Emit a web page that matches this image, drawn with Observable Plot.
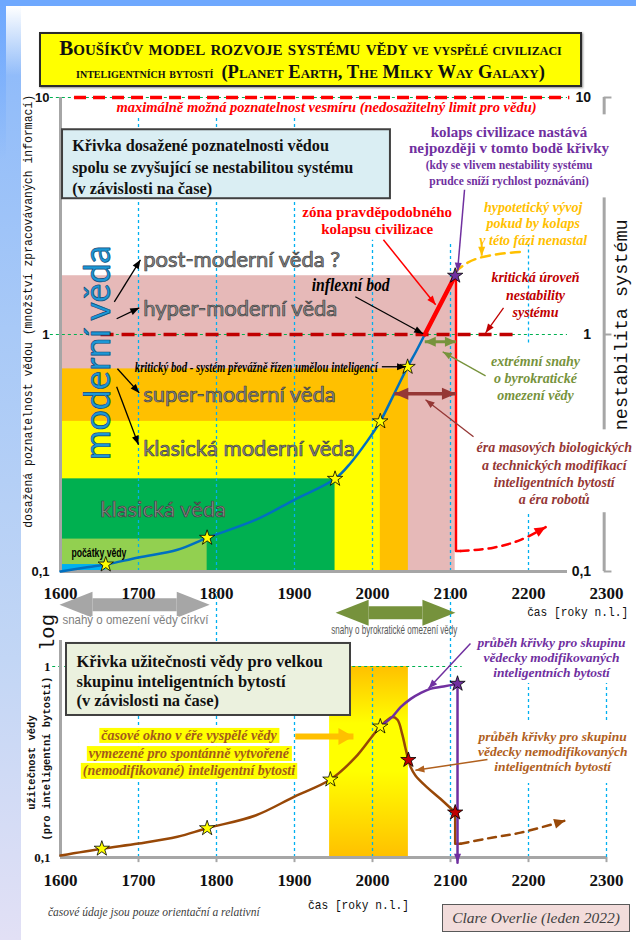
<!DOCTYPE html>
<html>
<head>
<meta charset="utf-8">
<script src="https://cdn.jsdelivr.net/npm/d3@7"></script>
<script src="https://cdn.jsdelivr.net/npm/@observablehq/plot@0.6"></script>
<style>
  html, body { margin: 0; padding: 0; background: #fff; }
  #page { position: relative; width: 636px; height: 940px; overflow: hidden; background: #fff; }
  #edgeLeft { position: absolute; left: 0; top: 0; width: 21px; height: 940px;
    background: linear-gradient(to bottom, #8AB8FA 0%, #A8C9F7 35%, #C2D6F5 70%, #E2E0F5 100%); }
  #edgeFade { position: absolute; left: 6px; top: 6px; width: 15px; height: 70px;
    background: linear-gradient(to bottom, #fff 0%, rgba(255,255,255,0) 100%); }
  #edgeLine { position: absolute; left: 0; top: 0; width: 6px; height: 160px;
    background: linear-gradient(to bottom, #6EA8FE 0%, rgba(110,168,254,0) 100%); }
  #edgeTop { position: absolute; left: 0; top: 0; width: 636px; height: 6px; background: #6EA8FE; }
  #title { position: absolute; left: 39px; top: 32px; width: 543px; height: 55px; box-sizing: border-box;
    border: 2px solid #2b2b2b; background: #FFFF00; box-shadow: 1px 1px 2px rgba(0,0,0,.45);
    font-family: "Liberation Serif", "Times New Roman", serif; font-weight: bold; font-variant: small-caps;
    text-align: center; color: #111; line-height: 23px; padding-top: 3px; white-space: nowrap; }
  #title .big { font-size: 21px; }
  #title .small { font-size: 16.5px; }
  #title .big2 { font-size: 18.5px; }
  #title .small2 { font-size: 14.5px; }
  #top, #bottom { position: absolute; left: 0; width: 636px; }
  #top { top: 0; }
  #bottom { top: 590px; }
  #note { position: absolute; left: 48px; top: 906px; font-family: "Liberation Serif", "Times New Roman", serif; font-style: italic;
    font-size: 11.5px; color: #404040; white-space: nowrap; }
  #author { position: absolute; left: 442px; top: 904px; width: 188px; height: 28px; box-sizing: border-box;
    background: #F2DCDB; border: 1.5px solid #595959; font-family: "Liberation Serif", "Times New Roman", serif; font-style: italic;
    font-size: 15.5px; color: #404040; text-align: center; line-height: 25px; }
</style>
</head>
<body>
<div id="page">
  <div id="edgeLeft"></div>
  <div id="edgeFade"></div>
  <div id="edgeLine"></div>
  <div id="edgeTop"></div>
  <div id="top"></div>
  <div id="bottom"></div>
  <div id="title"><span class="big">Boušíkův model rozvoje systému vědy</span> <span class="small">ve vyspělé civilizaci</span><br><span class="small2">inteligentních bytostí</span>&nbsp; <span class="big2">(Planet Earth, The Milky Way Galaxy)</span></div>
  <div id="note">časové údaje jsou pouze orientační a relativní</div>
  <div id="author">Clare Overlie (leden 2022)</div>
</div>
<script>
// ---------------- data ----------------
const xTickYears = [1600, 1700, 1800, 1900, 2000, 2100, 2200, 2300];
const topTickValues = [10, 1, 0.1];
const topTickLabels = ["10", "1", "0,1"];
const bottomTickValues = [1, 0.1];
const bottomTickLabels = ["1", "0,1"];

// coloured eras of the knowledge chart
const bandNames = ["zóna nestability", "super-moderní", "klasická moderní", "klasická", "počátky", "zárodky"];
const bandEndYears = [2106, 2046, 2010, 1952, 1788, 1658];
const bandTopValues = [1.77, 0.716, 0.43, 0.246, 0.137, 0.107];
const bandColors = ["#E6B9B8", "#FFC000", "#FFFF00", "#00B050", "#92D050", "#00B0F0"];

// knowledge curve (blue), then collapse zone (red)
const knowledgeYears = [1600, 1630, 1658, 1700, 1750, 1788, 1850, 1900, 1952, 1972, 1993, 2010, 2027, 2045, 2056, 2067];
const knowledgeValues = [0.1, 0.1036, 0.107, 0.1146, 0.1235, 0.1387, 0.165, 0.2007, 0.246, 0.287, 0.354, 0.43, 0.555, 0.73, 0.85, 1.0];
const collapseYears = [2067, 2106];
const collapseValues = [1.0, 1.77];
const dropYears = [2107, 2107, 2113];
const dropValues = [1.77, 0.122, 0.122];
const fallYears = [2113, 2155, 2190, 2222];
const fallValues = [0.122, 0.126, 0.136, 0.154];
const hypoYears = [2106, 2122, 2138, 2164, 2190];
const hypoValues = [1.84, 2.01, 2.11, 2.19, 2.23];
const topStarYears = [1658, 1788, 1952, 2010, 2045, 2106];
const topStarValues = [0.107, 0.1387, 0.246, 0.43, 0.73, 1.77];
const topStarFills = ["#FFFF00", "#FFFF00", "#FFFF00", "#FFFF00", "#FFFF00", "#7030A0"];

// usefulness curves
const usefulYears = [1600, 1653, 1700, 1750, 1788, 1850, 1900, 1946, 1978, 2010, 2025, 2032, 2038, 2042, 2046, 2049, 2055, 2070, 2087, 2106];
const usefulValues = [0.1024, 0.1112, 0.1183, 0.1283, 0.1423, 0.166, 0.2085, 0.2559, 0.334, 0.485, 0.543, 0.526, 0.444, 0.378, 0.324, 0.297, 0.269, 0.233, 0.203, 0.172];
const usefulDropYears = [2106, 2106, 2113];
const usefulDropValues = [0.172, 0.118, 0.118];
const usefulFallYears = [2113, 2147, 2190, 2247];
const usefulFallValues = [0.118, 0.1257, 0.135, 0.156];
const modifiedYears = [2010, 2025, 2036, 2049, 2061.5, 2074, 2091, 2109];
const modifiedValues = [0.485, 0.543, 0.612, 0.677, 0.725, 0.764, 0.786, 0.812];
const modifiedDropYears = [2109, 2109];
const modifiedDropValues = [0.812, 0.094];
const bottomStarYears = [1653, 1788, 1946, 2010, 2046, 2106, 2109];
const bottomStarValues = [0.1112, 0.1423, 0.2559, 0.485, 0.324, 0.172, 0.812];
const bottomStarFills = ["#FFFF00", "#FFFF00", "#FFFF00", "#FFFF00", "#C00000", "#C00000", "#7030A0"];
const windowYears = [1945, 2046];

// gridline segments
const topGridYears = [1700, 1800, 1900, 2000, 2100, 2200, 2200];
const topGridLow = [0.1, 0.1, 0.1, 0.1, 0.1, 0.1, 0.92];
const topGridHigh = [8.4, 8.4, 8.4, 2.5, 2.4, 0.177, 2.4];
const bottomGridYears = [1700, 1800, 1900, 2000, 2100, 2200, 2200, 2300, 2300];
const bottomGridLow = [0.1, 0.1, 0.1, 0.1, 0.1, 0.1, 0.521, 0.1, 0.521];
const bottomGridHigh = [0.55, 2.44, 0.55, 1, 2.44, 0.244, 0.815, 0.244, 0.815];
const rightAxisLow = [8.45, 0.396, 0.1];
const rightAxisHigh = [10, 3.77, 0.177];

// band labels
const eraLabels = ["post-moderní věda ?", "hyper-moderní věda", "super-moderní věda", "klasická moderní věda"];
const eraLabelValues = [2.07, 1.284, 0.557, 0.3295];
const windowLines = ["časové okno v éře vyspělé vědy", "vymezené pro spontánně vytvořené", "(nemodifikované) inteligentní bytosti"];
const windowLineValues = [0.4355, 0.35, 0.2856];

// ---------------- helpers ----------------
const ns = "http://www.w3.org/2000/svg";
const SERIF = "'Liberation Serif', 'Times New Roman', serif";
const MONO = "'Liberation Mono', 'Courier New', monospace";
const SANS = "'Liberation Sans', Arial, sans-serif";
const LATO = "Lato, sans-serif";
const bi = {fontFamily: SERIF, fontWeight: "bold", fontStyle: "italic"};
const zip = (xs, ys) => xs.map((x, i) => ({x, y: ys[i]}));
const seg = (xs, lo, hi) => xs.map((x, i) => ({x, lo: lo[i], hi: hi[i]}));

function headMarker(len, wid, base) {
  return (color) => {
    const m = document.createElementNS(ns, "marker");
    m.setAttribute("viewBox", `0 ${-wid / 2} ${len} ${wid}`);
    m.setAttribute("markerWidth", len);
    m.setAttribute("markerHeight", wid);
    m.setAttribute("markerUnits", "userSpaceOnUse");
    m.setAttribute("orient", "auto-start-reverse");
    m.setAttribute("refX", base ? 0 : len);
    m.setAttribute("refY", 0);
    m.setAttribute("overflow", "visible");
    const p = document.createElementNS(ns, "path");
    p.setAttribute("d", `M0,${-wid / 2}L${len},0L0,${wid / 2}Z`);
    p.setAttribute("fill", color);
    p.setAttribute("stroke", "none");
    m.appendChild(p);
    return m;
  };
}
function pointers(rows, marker) {
  return Plot.link(rows, {
    x1: d => d.from[0], y1: d => d.from[1], x2: d => d.to[0], y2: d => d.to[1],
    stroke: "color", strokeWidth: "w", markerEnd: marker
  });
}
function txt(s, opts) { return Plot.text([s], {text: d => d, ...opts}); }

// ---------------- top chart ----------------
function buildTop(M) {
  const bands = bandNames.map((n, i) => ({name: n, end: bandEndYears[i], top: bandTopValues[i], color: bandColors[i]}));
  const stars = topStarYears.map((x, i) => ({x, y: topStarValues[i], fill: topStarFills[i]}));
  const topPointers = [
    {from: [2118, 4.08], to: [2109, 1.84], color: "#7030A0", w: 1.5},
    {from: [2014, 2.51], to: [2081, 1.335], color: "#FF0000", w: 1.5},
    {from: [1978, 1.443], to: [2065, 1.007], color: "#000000", w: 1.3},
    {from: [2012, 0.731], to: [2043, 0.731], color: "#000000", w: 1.3},
    {from: [2168, 1.296], to: [2145, 1.017], color: "#C00000", w: 1.3},
    {from: [2145, 0.669], to: [2090, 0.845], color: "#77933C", w: 1.3},
    {from: [2129.5, 0.37], to: [2068, 0.53], color: "#953735", w: 1.3},
    {from: [2140, 2.44], to: [2140, 2.15], color: "#FFC000", w: 2},
    {from: [1669, 1.374], to: [1702.5, 2.066], color: "#000000", w: 1.3},
    {from: [1672, 1.165], to: [1701, 1.296], color: "#000000", w: 1.3},
    {from: [1673, 0.717], to: [1701, 0.567], color: "#000000", w: 1.3},
    {from: [1672, 0.6015], to: [1700, 0.3428], color: "#000000", w: 1.3}
  ];
  const eraOutline = {fontFamily: LATO, fontSize: 22, fill: "#8C8C8C", stroke: "#3F3F3F", strokeWidth: 0.7, paintOrder: "normal"};
  return Plot.plot({
    width: 636, height: 640, marginLeft: 60, marginRight: 30, marginTop: 97, marginBottom: 69,
    x: {domain: [1600, 2300], axis: null},
    y: {type: "log", domain: [0.1, 10], axis: null},
    color: {type: "identity"},
    style: {background: "transparent", overflow: "visible"},
    marks: [
      Plot.rect(bands, {x1: 1600, x2: "end", y1: 0.1, y2: "top", fill: "color"}),
      Plot.ruleX(seg(topGridYears, topGridLow, topGridHigh), {x: "x", y1: "lo", y2: "hi", stroke: "#00B0F0", strokeWidth: 1.3, strokeDasharray: "3,3"}),
      Plot.ruleY([10, 1], {x1: 1587, x2: 2250, stroke: "#00B050", strokeWidth: 1, strokeDasharray: "3,3"}),
      Plot.ruleY([10], {x1: 1618, x2: 2253, stroke: "#FF0000", strokeWidth: 3.5, strokeDasharray: "12,7"}),
      Plot.ruleY([1], {x1: 1652, x2: 2185, stroke: "#C00000", strokeWidth: 3.5, strokeDasharray: "13,8"}),
      Plot.ruleX([1600], {y1: 0.1, y2: 10, stroke: "#A6A6A6", strokeWidth: 3}),
      Plot.ruleY([0.1], {x1: 1600, x2: 2250, stroke: "#A6A6A6", strokeWidth: 3}),
      Plot.ruleX(seg([2297, 2297, 2297], rightAxisLow, rightAxisHigh), {x: "x", y1: "lo", y2: "hi", stroke: "#A6A6A6", strokeWidth: 3}),
      Plot.ruleY(topTickValues, {x1: 2297, x2: 2307, stroke: "#A6A6A6", strokeWidth: 2}),
      // title box of the chart
      Plot.rect([0], {x1: 1602.6, x2: 2023, y1: 3.74, y2: 7.31, fill: "#DAEEF3", stroke: "#404040", strokeWidth: 2}),
      txt("Křivka dosažené poznatelnosti vědou\nspolu se zvyšující se nestabilitou systému\n(v závislosti na čase)",
        {x: 1615, y: 5.15, textAnchor: "start", fontFamily: SERIF, fontWeight: "bold", fontSize: 16.2, lineHeight: 1.3, fill: "#111"}),
      // curves
      Plot.line(zip(hypoYears, hypoValues), {x: "x", y: "y", curve: "catmull-rom", stroke: "#FFC000", strokeWidth: 2.5, strokeDasharray: "9,6"}),
      Plot.line(zip(knowledgeYears, knowledgeValues), {x: "x", y: "y", curve: "catmull-rom", stroke: "#0070C0", strokeWidth: 2.5}),
      Plot.line(zip(collapseYears, collapseValues), {x: "x", y: "y", stroke: "#FF0000", strokeWidth: 4.5}),
      Plot.line(zip(dropYears, dropValues), {x: "x", y: "y", stroke: "#FF0000", strokeWidth: 2.5}),
      Plot.line(zip(fallYears, fallValues), {x: "x", y: "y", curve: "catmull-rom", stroke: "#FF0000", strokeWidth: 2.5, strokeDasharray: "8,6", markerEnd: M.mid}),
      // double arrows
      Plot.link([0], {x1: 2067, x2: 2107, y1: 0.932, y2: 0.932, stroke: "#77933C", strokeWidth: 3, markerStart: M.mid, markerEnd: M.mid}),
      Plot.link([0], {x1: 2028, x2: 2107, y1: 0.562, y2: 0.562, stroke: "#953735", strokeWidth: 3.5, markerStart: M.big, markerEnd: M.big}),
      Plot.link([0], {x1: 1641, x2: 1749, y1: 0.0724, y2: 0.0724, stroke: "#A6A6A6", strokeWidth: 13, markerStart: M.huge, markerEnd: M.huge}),
      Plot.link([0], {x1: 1995, x2: 2064, y1: 0.067, y2: 0.067, stroke: "#76923C", strokeWidth: 13, markerStart: M.huge, markerEnd: M.huge}),
      Plot.dot(stars, {x: "x", y: "y", symbol: "star", r: 4.8, fill: "fill", stroke: "#000", strokeWidth: 0.8}),
      // era labels
      Plot.text(eraLabels, {x: 1706, y: (d, i) => eraLabelValues[i], text: d => d, textAnchor: "start", ...eraOutline}),
      txt("klasická věda", {x: 1651, y: 0.182, textAnchor: "start", ...eraOutline}),
      txt("počátky vědy", {x: 1614, y: 0.12, textAnchor: "start", fontFamily: SANS, fontWeight: "bold", fontSize: 13, fill: "#000"}),
      txt("moderní věda", {x: 1648.7, y: 0.837, rotate: -90, fontFamily: LATO, fontSize: 36, fill: "#1C97D6", stroke: "#0D4A78", strokeWidth: 0.7, paintOrder: "normal"}),
      // annotations
      txt("maximálně možná poznatelnost vesmíru (nedosažitelný limit pro vědu)", {x: 1941, y: 9.05, ...bi, fontSize: 14.5, fill: "#FF0000"}),
      txt("kolaps civilizace nastává\nnejpozději v tomto bodě křivky", {x: 2175, y: 6.63, fontFamily: SERIF, fontWeight: "bold", fontSize: 15, lineHeight: 1.07, fill: "#7030A0"}),
      txt("(kdy se vlivem nestability systému\nprudce sníží rychlost poznávání)", {x: 2175, y: 4.86, fontFamily: SERIF, fontWeight: "bold", fontSize: 11.5, lineHeight: 1.39, fill: "#7030A0"}),
      txt("zóna pravděpodobného\nkolapsu civilizace", {x: 2006, y: 3.03, fontFamily: SERIF, fontWeight: "bold", fontSize: 15, lineHeight: 1.13, fill: "#FF0000"}),
      txt("hypotetický vývoj\npokud by kolaps\nv této fázi nenastal", {x: 2206, y: 2.96, ...bi, fontSize: 14, lineHeight: 1.18, fill: "#FFC000"}),
      txt("kritická úroveň\nnestability\nsystému", {x: 2209, y: 1.48, ...bi, fontSize: 14, lineHeight: 1.23, fill: "#C00000"}),
      txt("extrémní snahy\no byrokratické\nomezení vědy", {x: 2209, y: 0.657, ...bi, fontSize: 14, lineHeight: 1.19, fill: "#77933C"}),
      txt("éra masových biologických\na technických modifikací\ninteligentních bytostí\na éra robotů", {x: 2233, y: 0.261, ...bi, fontSize: 14, lineHeight: 1.24, fill: "#953735"}),
      txt("inflexní bod", {x: 1972, y: 1.62, ...bi, fontSize: 18, fill: "#000"}),
      txt("kritický bod - systém převážně řízen umělou inteligencí", {x: 1851, y: 0.731, ...bi, fontSize: 15.5, fill: "#000"}),
      pointers(topPointers, M.thin),
      // axes text
      Plot.text(topTickValues, {x: 1600, y: d => d, text: (d, i) => topTickLabels[i], dx: -11, textAnchor: "end", fontFamily: SANS, fontWeight: "bold", fontSize: 13, fill: "#111"}),
      Plot.text(topTickValues, {x: 2297, y: d => d, text: (d, i) => topTickLabels[i], dx: -13, textAnchor: "end", fontFamily: SANS, fontWeight: "bold", fontSize: 14, fill: "#111"}),
      Plot.text(xTickYears, {x: d => d, y: 0.1, text: d => String(d), dy: 22, fontFamily: SERIF, fontWeight: "bold", fontSize: 17, fill: "#111"}),
      txt("čas [roky n.l.]", {x: 2263, y: 0.0676, fontFamily: MONO, fontSize: 12, fill: "#111"}),
      txt("dosažená poznatelnost vědou (množství zpracovávaných informací)", {x: 1558, y: 1.253, rotate: -90, fontFamily: MONO, fontSize: 13, fill: "#111"}),
      txt("nestabilita systému", {x: 2319, y: 1.099, rotate: -90, fontFamily: MONO, fontSize: 18.5, fill: "#111"}),
      txt("snahy o omezení vědy církví", {x: 1696, y: 0.0626, fontFamily: SANS, fontSize: 13, fill: "#7F7F7F", stroke: "#fff", strokeWidth: 2, paintOrder: "stroke"}),
      txt("snahy o byrokratické omezení vědy", {x: 2028, y: 0.0568, fontFamily: SANS, fontSize: 13, fill: "#595959", stroke: "#fff", strokeWidth: 2, paintOrder: "stroke"})
    ]
  });
}

// ---------------- bottom chart ----------------
function buildBottom(M) {
  const stars = bottomStarYears.map((x, i) => ({x, y: bottomStarValues[i], fill: bottomStarFills[i]}));
  const bottomPointers = [
    {from: [2125.6, 1.32], to: [2071.8, 0.767], color: "#7030A0", w: 1.5},
    {from: [2147.4, 0.326], to: [2055, 0.286], color: "#B0601E", w: 1.5}
  ];
  return Plot.plot({
    width: 636, height: 350, marginLeft: 60, marginRight: 30, marginTop: 76, marginBottom: 83,
    x: {domain: [1600, 2300], axis: null},
    y: {type: "log", domain: [0.1, 1], axis: null},
    color: {type: "identity"},
    style: {background: "transparent", overflow: "visible"},
    marks: [
      Plot.rect([0], {x1: windowYears[0], x2: windowYears[1], y1: 0.1, y2: 1, fill: "url(#oknoGrad)"}),
      Plot.ruleX(seg(bottomGridYears, bottomGridLow, bottomGridHigh), {x: "x", y1: "lo", y2: "hi", stroke: "#00B0F0", strokeWidth: 1.3, strokeDasharray: "3,3"}),
      Plot.ruleY([1], {x1: 1590, x2: 2115, stroke: "#00B050", strokeWidth: 1, strokeDasharray: "3,3"}),
      Plot.ruleX([1600], {y1: 0.1, y2: 1.368, stroke: "#A6A6A6", strokeWidth: 3}),
      Plot.ruleY([0.1], {x1: 1600, x2: 2300, stroke: "#A6A6A6", strokeWidth: 3}),
      Plot.ruleX(xTickYears.slice(1), {y1: 0.1, y2: 0.094, stroke: "#A6A6A6", strokeWidth: 2}),
      Plot.rect([0], {x1: 1607.7, x2: 1971.8, y1: 0.554, y2: 1.32, fill: "#EBF1DE", stroke: "#404040", strokeWidth: 2}),
      txt("Křivka užitečnosti vědy pro velkou\nskupinu inteligentních bytostí\n(v závislosti na čase)",
        {x: 1620.5, y: 0.845, textAnchor: "start", fontFamily: SERIF, fontWeight: "bold", fontSize: 16.5, lineHeight: 1.18, fill: "#111"}),
      Plot.text(windowLines, {x: 1764.7, y: (d, i) => windowLineValues[i], text: d => d, ...bi, fontSize: 14, fill: "#A45A1B"}),
      Plot.link([0], {x1: 1901, x2: 1975.6, y1: 0.43, y2: 0.43, stroke: "#FFC000", strokeWidth: 6, markerEnd: M.orange}),
      Plot.line(zip(usefulYears, usefulValues), {x: "x", y: "y", curve: "catmull-rom", stroke: "#984807", strokeWidth: 2.5}),
      Plot.line(zip(usefulDropYears, usefulDropValues), {x: "x", y: "y", stroke: "#984807", strokeWidth: 2.5}),
      Plot.line(zip(usefulFallYears, usefulFallValues), {x: "x", y: "y", curve: "catmull-rom", stroke: "#984807", strokeWidth: 2.5, strokeDasharray: "8,6", markerEnd: M.mid}),
      Plot.line(zip(modifiedYears, modifiedValues), {x: "x", y: "y", curve: "catmull-rom", stroke: "#7030A0", strokeWidth: 2.5}),
      Plot.line(zip(modifiedDropYears, modifiedDropValues), {x: "x", y: "y", stroke: "#7030A0", strokeWidth: 2.5, markerEnd: M.thin}),
      Plot.dot(stars, {x: "x", y: "y", symbol: "star", r: 4.8, fill: "fill", stroke: "#000", strokeWidth: 0.8}),
      txt("průběh křivky pro skupinu\nvědecky modifikovaných\ninteligentních bytostí", {x: 2229.5, y: 1.115, ...bi, fontSize: 13.5, lineHeight: 1.11, fill: "#7030A0"}),
      txt("průběh křivky pro skupinu\nvědecky nemodifikovaných\ninteligentních bytostí", {x: 2231, y: 0.359, ...bi, fontSize: 13.5, lineHeight: 1.11, fill: "#B0601E"}),
      pointers(bottomPointers, M.thin),
      Plot.text(bottomTickValues, {x: 1600, y: d => d, text: (d, i) => bottomTickLabels[i], dx: -10, textAnchor: "end", fontFamily: SERIF, fontWeight: "bold", fontSize: 13, fill: "#111"}),
      Plot.text(xTickYears, {x: d => d, y: 0.1, text: d => String(d), dy: 23, fontFamily: SERIF, fontWeight: "bold", fontSize: 17, fill: "#111"}),
      txt("čas [roky n.l.]", {x: 1982, y: 0.0567, fontFamily: MONO, fontSize: 13, fill: "#111"}),
      txt("log", {x: 1583.3, y: 1.507, rotate: -90, fontFamily: MONO, fontSize: 20.5, fill: "#111"}),
      txt("užitečnost vědy", {x: 1562.8, y: 0.314, rotate: -90, fontFamily: MONO, fontWeight: "bold", fontSize: 10.5, fill: "#111"}),
      txt("(pro inteligentní bytosti)", {x: 1582, y: 0.329, rotate: -90, fontFamily: MONO, fontWeight: "bold", fontSize: 10.5, fill: "#111"})
    ]
  });
}

// ---------------- render ----------------
let M = {thin: headMarker(9, 7), mid: headMarker(11, 10), big: headMarker(14, 12), huge: headMarker(33, 26, true), orange: headMarker(15, 17)};
let topSvg, bottomSvg;
try {
  topSvg = buildTop(M); bottomSvg = buildBottom(M);
} catch (e) {
  console.error(e);
  M = {thin: "arrow", mid: "arrow", big: "arrow", huge: "arrow", orange: "arrow"};
  topSvg = buildTop(M); bottomSvg = buildBottom(M);
}
document.getElementById("top").appendChild(topSvg);
document.getElementById("bottom").appendChild(bottomSvg);

// gradient for the time window
const defs = document.createElementNS(ns, "defs");
defs.innerHTML = '<linearGradient id="oknoGrad" x1="0" y1="0" x2="0" y2="1">' +
  '<stop offset="0" stop-color="#FFC000"/><stop offset="0.3" stop-color="#FFFF00"/>' +
  '<stop offset="0.55" stop-color="#FFFF00"/><stop offset="1" stop-color="#FFC000"/></linearGradient>';
bottomSvg.insertBefore(defs, bottomSvg.firstChild);

// condensed texts
const condensed = new Map([
  ["kritický bod - systém převážně řízen umělou inteligencí", 243],
  ["počátky vědy", 55],
  ["snahy o omezení vědy církví", 146],
  ["snahy o byrokratické omezení vědy", 126],
  ["čas [roky n.l.]", 101],
  ["inflexní bod", 78],
  ["dosažená poznatelnost vědou (množství zpracovávaných informací)", 433]
]);
for (const t of document.querySelectorAll("svg text")) {
  const L = condensed.get(t.textContent);
  if (L) { t.setAttribute("textLength", L); t.setAttribute("lengthAdjust", "spacingAndGlyphs"); }
}
// yellow highlight behind the time-window text
const hl = new Set(windowLines);
const rects = [];
let group = null;
for (const t of bottomSvg.querySelectorAll("text")) {
  if (hl.has(t.textContent)) {
    const b = t.getBBox();
    const r = document.createElementNS(ns, "rect");
    r.setAttribute("x", b.x - 2); r.setAttribute("y", b.y);
    r.setAttribute("width", b.width + 4); r.setAttribute("height", b.height);
    r.setAttribute("fill", "#FFFF00"); r.setAttribute("stroke", "none");
    const tr = t.getAttribute("transform"); if (tr) r.setAttribute("transform", tr);
    rects.push(r); group = t.parentNode;
  }
}
if (group) for (const r of rects) group.insertBefore(r, group.firstChild);
</script>
</body>
</html>
